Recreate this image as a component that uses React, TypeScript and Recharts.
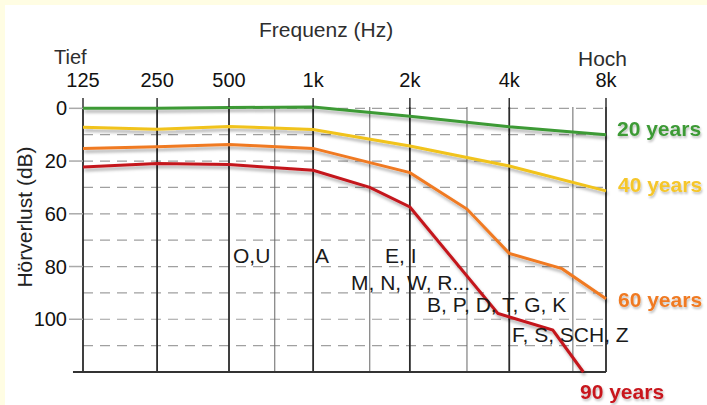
import { LineChart, Line, XAxis, YAxis, ReferenceLine } from "recharts"

// x positions are octave steps as laid out in the picture (125 Hz = 0, 8k = 6)
const freqLabels = ["125", "250", "500", "1k", "2k", "4k", "8k"]
const freqPos = [0, 0.85, 1.675, 2.64, 3.75, 4.89, 6]
const minorPos = [2.2, 3.29, 4.405, 5.62]

const dbTicks = [0, 20, 40, 60, 80]
const dbLabels = ["0", "20", "60", "80", "100"]
const dashedDb = [0, 10, 20, 30, 40, 50, 60, 70, 80, 90]

const years20Pos = [0, 0.85, 1.675, 2.64, 3.75, 4.89, 6]
const years20Db = [0, 0, -0.3, -0.5, 3, 7, 10]

const years40Pos = [0, 0.85, 1.675, 2.64, 3.75, 4.89, 6]
const years40Db = [7.2, 7.9, 6.9, 8, 14.3, 21.9, 31.3]

const years60Pos = [0, 0.85, 1.675, 2.64, 3.75, 4.405, 4.89, 5.495, 6]
const years60Db = [15.2, 14.6, 13.7, 15.2, 24.4, 38.2, 55, 60.8, 72.2]

const years90Pos = [0, 0.85, 1.675, 2.64, 3.29, 3.75, 4.76, 5.39, 5.74]
const years90Db = [22.3, 20.9, 21.3, 23.5, 30, 37.4, 77.8, 84.1, 100]

const toRows = (pos: number[], db: number[]) => pos.map((p, i) => ({ pos: p, db: db[i] }))

const series = [
  { name: "20 years", rows: toRows(years20Pos, years20Db), color: "#3c9a36" },
  { name: "40 years", rows: toRows(years40Pos, years40Db), color: "#f1c31b" },
  { name: "60 years", rows: toRows(years60Pos, years60Db), color: "#f07a22" },
  { name: "90 years", rows: toRows(years90Pos, years90Db), color: "#c4161c" },
]

const font = "'Liberation Sans', Arial, sans-serif"

export default function App() {
  return (
    <div
      style={{
        position: "absolute",
        left: 0,
        top: 0,
        width: 707,
        height: 405,
        background: "#fffde3",
        fontFamily: font,
        overflow: "hidden",
      }}
    >
      <div style={{ position: "absolute", left: 5, top: 5, width: 702, height: 400, background: "#ffffff" }} />

      <svg width={0} height={0} style={{ position: "absolute" }}>
        <defs>
          <filter id="lineShadow" x="-10%" y="-10%" width="130%" height="140%">
            <feDropShadow dx="1.5" dy="3" stdDeviation="1.5" floodColor="#000" floodOpacity="0.3" />
          </filter>
          <filter id="textShadow" x="-10%" y="-20%" width="130%" height="160%">
            <feDropShadow dx="1" dy="2" stdDeviation="1.2" floodColor="#000" floodOpacity="0.25" />
          </filter>
        </defs>
      </svg>

      <div style={{ position: "absolute", left: 0, top: 0 }}>
        <LineChart width={707} height={405} margin={{ left: 43, right: 101, top: 77, bottom: 33 }}>
          <XAxis
            type="number"
            dataKey="pos"
            orientation="top"
            domain={[0, 6]}
            ticks={freqPos}
            interval={0}
            tickFormatter={(v: number) => freqLabels[freqPos.indexOf(v)]}
            height={30}
            axisLine={false}
            tickLine={{ stroke: "#333", strokeWidth: 1.5 }}
            tickSize={9}
            tickMargin={11}
            tick={{ fill: "#111", fontSize: 20 }}
          />
          <YAxis
            type="number"
            domain={[0, 100]}
            reversed
            ticks={dbTicks}
            interval={0}
            tickFormatter={(v: number) => dbLabels[dbTicks.indexOf(v)]}
            width={40}
            axisLine={false}
            tickLine={{ stroke: "#aaa", strokeWidth: 1.5 }}
            tickSize={14}
            tickMargin={2}
            tick={{ fill: "#111", fontSize: 20 }}
          />
          {dashedDb.map((d) => (
            <ReferenceLine key={`h-${d}`} y={d} stroke="#a0a0a0" strokeWidth={1.2} strokeDasharray="10 7" />
          ))}
          {minorPos.map((p) => (
            <ReferenceLine key={`m-${p}`} x={p} stroke="#666" strokeWidth={1} />
          ))}
          {freqPos.map((p) => (
            <ReferenceLine key={`v-${p}`} x={p} stroke="#2b2b2b" strokeWidth={1.8} />
          ))}
          <ReferenceLine
            segment={[
              { x: -0.115, y: 100 },
              { x: 6, y: 100 },
            ]}
            ifOverflow="visible"
            stroke="#333"
            strokeWidth={2}
          />
          {series.map((s) => (
            <Line
              key={s.name}
              data={s.rows}
              dataKey="db"
              type="linear"
              stroke={s.color}
              strokeWidth={3}
              dot={false}
              filter="url(#lineShadow)"
              isAnimationActive={false}
            />
          ))}
        </LineChart>
      </div>

      <svg
        width={707}
        height={405}
        style={{ position: "absolute", left: 0, top: 0, pointerEvents: "none", fontFamily: font }}
      >
        <text x={259} y={37} fontSize={21} fill="#2e2e2e">
          Frequenz (Hz)
        </text>
        <text x={54} y={64} fontSize={20} fill="#2e2e2e">
          Tief
        </text>
        <text x={578} y={66} fontSize={21} fill="#2e2e2e">
          Hoch
        </text>
        <text x={24} y={217} fontSize={21} fill="#222" textAnchor="middle" transform="rotate(-90 24 217)" dominantBaseline="central">
          Hörverlust (dB)
        </text>

        <g fontSize={21} fill="#1a1a1a">
          <text x={233} y={263}>O,U</text>
          <text x={315} y={263}>A</text>
          <text x={385} y={263}>E, I</text>
          <text x={351} y={290}>M, N, W, R...</text>
          <text x={427} y={312}>B, P, D, T, G, K</text>
          <text x={512} y={342}>F, S, SCH, Z</text>
        </g>

        <g fontSize={21} fontWeight={700} filter="url(#textShadow)">
          <text x={617} y={136} fill="#3c9a36">20 years</text>
          <text x={618} y={192} fill="#f5c62a">40 years</text>
          <text x={618} y={307} fill="#f07a22">60 years</text>
          <text x={580} y={399} fill="#c8161e">90 years</text>
        </g>
      </svg>
    </div>
  )
}
